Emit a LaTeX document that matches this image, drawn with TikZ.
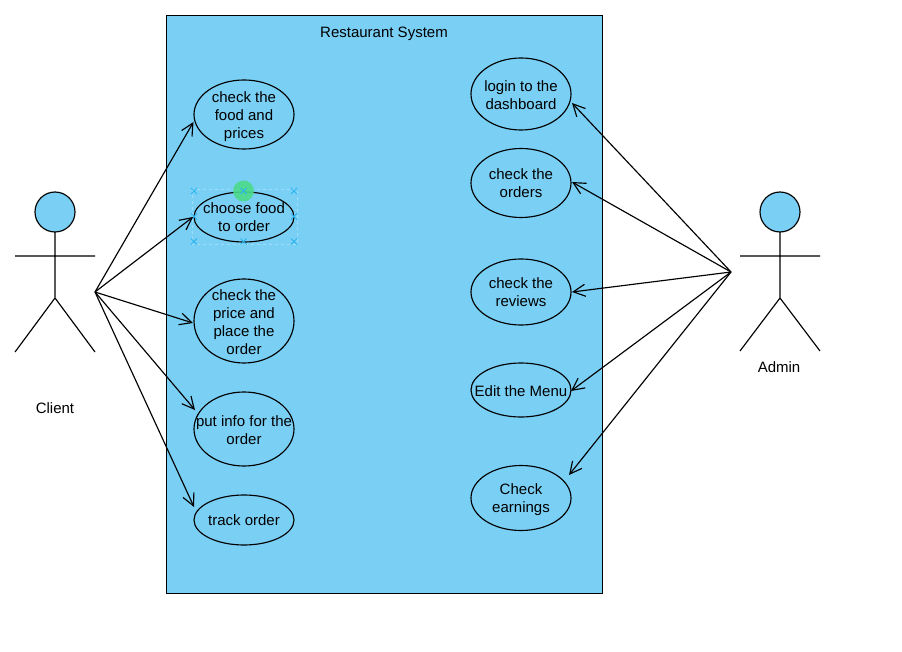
\documentclass[tikz,border=0pt]{standalone}
\usepackage{fontspec}
\setmainfont{Liberation Sans}
\usetikzlibrary{shapes.geometric,arrows.meta}
\definecolor{sysblue}{HTML}{7ACFF5}
\definecolor{handleblue}{HTML}{29B6F2}
\definecolor{handlegreen}{HTML}{4CDB8A}
\tikzset{
  ell/.style={ellipse,draw=black,fill=sysblue,line width=1.15pt,inner sep=0pt,outer sep=0pt,minimum width=100pt},
  txt/.style={font=\fontsize{15}{18}\selectfont,align=center,inner sep=0pt,text=black},
  line/.style={draw=black,line width=1.15pt},
  arr/.style={line,-{Straight Barb[length=12pt,width=12pt,line width=1.15pt]}},
  hx/.style={draw=handleblue,line width=1pt},
}
\newcommand{\hmark}[2]{\draw[hx] (#1-3,#2-3) -- (#1+3,#2+3) (#1-3,#2+3) -- (#1+3,#2-3);}
\begin{document}
\begin{tikzpicture}[x=1pt,y=-1pt]
\useasboundingbox (0,0) rectangle (902,652);
\node[draw=black,fill=sysblue,line width=1.15pt,minimum width=436.5pt,minimum height=578pt,inner sep=0pt,outer sep=0pt] (sys) at (384.5,304.5) {};
\node[txt] (title) at (384,34) {Restaurant System};
% use cases
\node[ell,minimum height=69pt,label={[txt,yshift=-2pt]center:check the\\food and\\prices}] (e1) at (244,114.5) {};
\node[ell,minimum height=50pt,label={[txt]center:choose food\\to order}] (e2) at (244,217) {};
\node[ell,minimum height=84pt,label={[txt,yshift=-1pt]center:check the\\price and\\place the\\order}] (e3) at (244,321) {};
\node[ell,minimum height=74pt,label={[txt,yshift=-1pt]center:put info for the\\order}] (e4) at (244,429) {};
\node[ell,minimum height=50pt,label={[txt]center:track order}] (e5) at (244,520) {};
\node[ell,minimum height=72pt,label={[txt,yshift=-1pt]center:login to the\\dashboard}] (r1) at (521,94) {};
\node[ell,minimum height=69pt,label={[txt]center:check the\\orders}] (r2) at (521,183) {};
\node[ell,minimum height=66pt,label={[txt]center:check the\\reviews}] (r3) at (521,292) {};
\node[ell,minimum height=54pt,label={[txt,yshift=-1pt]center:Edit the Menu}] (r4) at (521,390) {};
\node[ell,minimum height=65pt,label={[txt,yshift=-2pt]center:Check\\earnings}] (r5) at (521,498) {};
% selection handles
\draw[handleblue!45!white,dashed,line width=.9pt] (192,189) rectangle (297,244);
\foreach \hxx in {194,243.5,294}{\hmark{\hxx}{191}\hmark{\hxx}{241.5}}
\hmark{194}{216.5}\hmark{294}{216.5}
\fill[handlegreen,opacity=.9] (243.5,191) circle (10.5);
\hmark{243.5}{191}
% actors
\draw[line,fill=sysblue] (55,212) circle (20);
\draw[line] (55,232) -- (55,298) (15,256) -- (95,256) (15,352) -- (55,298) -- (95,352);
\node[txt] (clientlabel) at (55,408) {Client};
\draw[line,fill=sysblue] (780,212) circle (20);
\draw[line] (780,232) -- (780,298) (740,256) -- (820,256) (740,351) -- (780,298) -- (820,351);
\node[txt] (adminlabel) at (779,367) {Admin};
\coordinate (client) at (95,292);
\coordinate (admin) at (731,272);
% connectors
\draw[arr] (client) -- ([xshift=-50.5pt,yshift=-7.5pt]e1.center);
\draw[arr] (client) -- ([xshift=-51pt]e2.center);
\draw[arr] (client) -- ([xshift=-51pt,yshift=-2pt]e3.center);
\draw[arr] (client) -- ([xshift=-49pt,yshift=19pt]e4.center);
\draw[arr] (client) -- ([xshift=-50pt,yshift=13pt]e5.center);
\draw[arr] (admin) -- ([xshift=51pt,yshift=-9pt]r1.center);
\draw[arr] (admin) -- ([xshift=51pt,yshift=1pt]r2.center);
\draw[arr] (admin) -- ([xshift=51pt]r3.center);
\draw[arr] (admin) -- ([xshift=50pt,yshift=-1pt]r4.center);
\draw[arr] (admin) -- ([xshift=48pt,yshift=23pt]r5.center);
\end{tikzpicture}
\end{document}
